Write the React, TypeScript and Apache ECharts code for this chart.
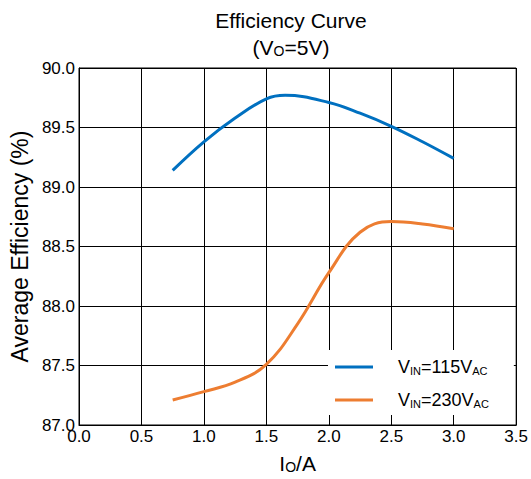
import React, { useEffect, useRef } from "react";
import * as echarts from "echarts";

const xValues115 = [0.75, 1.0, 1.25, 1.5, 1.65, 2.0, 2.25, 2.5, 2.75, 3.0];
const vin115 = [89.14, 89.38, 89.58, 89.74, 89.77, 89.71, 89.62, 89.51, 89.38, 89.24];
const xValues230 = [0.75, 1.0, 1.25, 1.5, 1.75, 2.0, 2.25, 2.5, 2.75, 3.0];
const vin230 = [87.21, 87.28, 87.36, 87.51, 87.85, 88.28, 88.62, 88.71, 88.69, 88.65];
const seriesNames = ["VIN=115VAC", "VIN=230VAC"];
const legendLabels = ["V{sub|IN}=115V{sub|AC}", "V{sub|IN}=230V{sub|AC}"];
const seriesColors = ["#0070C0", "#ED7D31"];

const FONT = "'Liberation Sans', Arial, sans-serif";

export default function App() {
  const ref = useRef<HTMLDivElement>(null);
  useEffect(() => {
    document.body.style.margin = "0";
    const chart = echarts.init(ref.current!, null, { renderer: "svg" });
    chart.setOption({
      animation: false,
      backgroundColor: "#fff",
      textStyle: { fontFamily: FONT },
      graphic: [
        {
          type: "text",
          x: 291,
          y: 20,
          style: {
            text: "Efficiency Curve",
            font: `21px ${FONT}`,
            fill: "#000",
            align: "center",
            verticalAlign: "middle",
          },
        },
        {
          type: "text",
          x: 291,
          y: 47,
          style: {
            text: "(V{sub|O}=5V)",
            fontSize: 21,
            fontFamily: FONT,
            fill: "#000",
            align: "center",
            verticalAlign: "middle",
            rich: {
              sub: { fontSize: 14, fontFamily: FONT, fill: "#000", verticalAlign: "bottom", lineHeight: 20 },
            },
          },
        },
      ],
      grid: {
        left: 79,
        right: 8,
        top: 68,
        bottom: 51,
        show: true,
        borderColor: "#000",
        borderWidth: 1,
        containLabel: false,
      },
      legend: {
        orient: "vertical",
        left: 328,
        top: 350,
        padding: [8, 25, 6, 7],
        backgroundColor: "#fff",
        itemWidth: 38,
        itemHeight: 14,
        itemGap: 15,
        data: seriesNames.map((n) => ({ name: n, icon: "path://M0,0 L38,0 L38,3 L0,3 Z" })),
        formatter: (name: string) => legendLabels[seriesNames.indexOf(name)],
        textStyle: {
          fontSize: 18,
          fontFamily: FONT,
          color: "#000",
          padding: [0, 0, 0, 20],
          lineHeight: 18,
          rich: {
            sub: { fontSize: 11, fontFamily: FONT, color: "#000", verticalAlign: "bottom", lineHeight: 14 },
          },
        },
      },
      xAxis: {
        type: "value",
        min: 0,
        max: 3.5,
        interval: 0.5,
        name: "I{sub|O}/A",
        nameLocation: "middle",
        nameGap: 28,
        nameTextStyle: {
          fontSize: 21,
          fontFamily: FONT,
          color: "#000",
          rich: {
            sub: { fontSize: 14, fontFamily: FONT, color: "#000", verticalAlign: "bottom", lineHeight: 19 },
          },
        },
        axisLine: { show: true, lineStyle: { color: "#000", width: 1 } },
        axisTick: { show: false },
        axisLabel: {
          fontSize: 17,
          fontFamily: FONT,
          color: "#000",
          margin: 3,
          formatter: (v: number) => v.toFixed(1),
        },
        splitLine: { show: true, lineStyle: { color: "#000", width: 1 } },
      },
      yAxis: {
        type: "value",
        min: 87,
        max: 90,
        interval: 0.5,
        name: "Average Efficiency (%)",
        nameLocation: "middle",
        nameGap: 46,
        nameTextStyle: { fontSize: 23, fontFamily: FONT, color: "#000" },
        axisLine: { show: true, lineStyle: { color: "#000", width: 1 } },
        axisTick: { show: false },
        axisLabel: {
          fontSize: 17,
          fontFamily: FONT,
          color: "#000",
          margin: 4,
          formatter: (v: number) => v.toFixed(1),
        },
        splitLine: { show: true, lineStyle: { color: "#000", width: 1 } },
      },
      series: [
        {
          name: seriesNames[0],
          type: "line",
          smooth: 0.4,
          symbol: "none",
          color: seriesColors[0],
          lineStyle: { width: 3, color: seriesColors[0] },
          data: xValues115.map((x, i) => [x, vin115[i]]),
        },
        {
          name: seriesNames[1],
          type: "line",
          smooth: 0.4,
          symbol: "none",
          color: seriesColors[1],
          lineStyle: { width: 3, color: seriesColors[1] },
          data: xValues230.map((x, i) => [x, vin230[i]]),
        },
      ],
    });
    return () => chart.dispose();
  }, []);
  return <div ref={ref} style={{ width: 531, height: 479 }} />;
}
